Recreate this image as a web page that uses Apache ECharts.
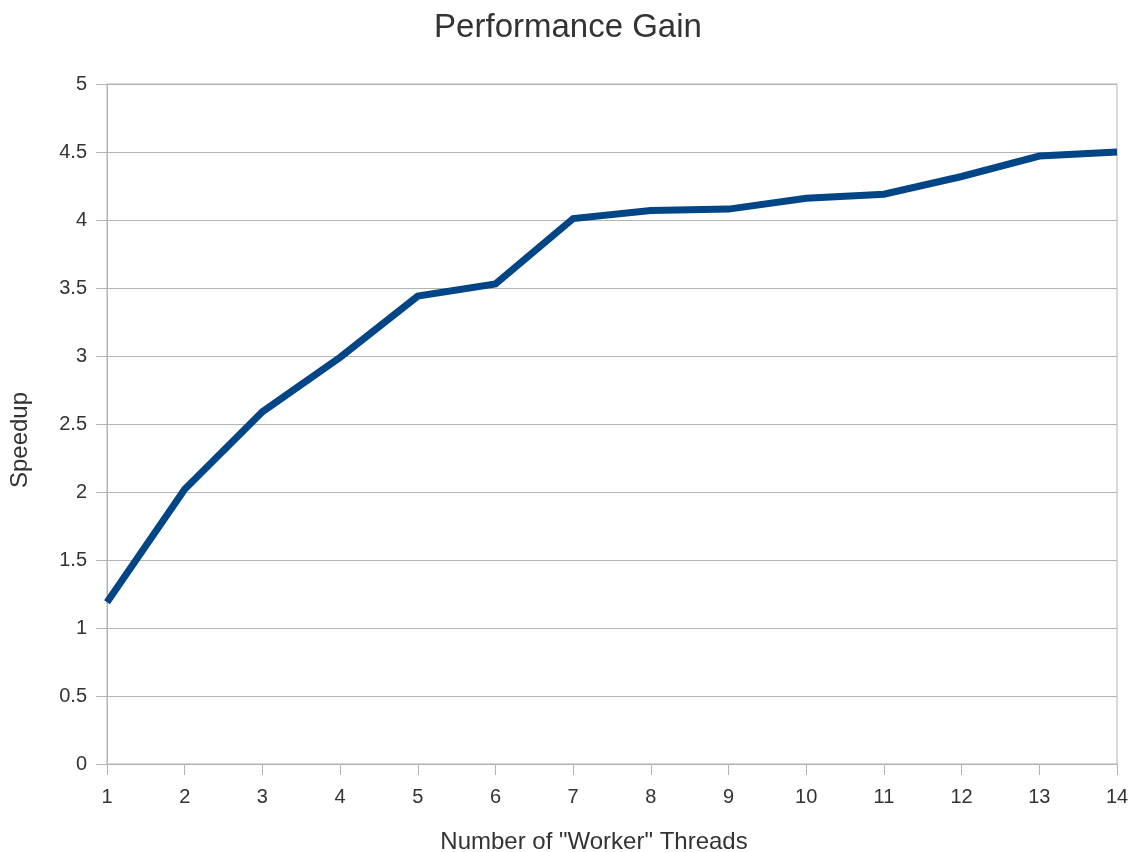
<!DOCTYPE html>
<html>
<head>
<meta charset="utf-8">
<script src="https://cdn.jsdelivr.net/npm/echarts@6/dist/echarts.min.js"></script>
<style>
  html, body { margin: 0; padding: 0; background: #fff; }
  #main { width: 1136px; height: 852px; }
</style>
</head>
<body>
<div id="main"></div>
<script>
// thread counts and measured speedup
const threads = [1, 2, 3, 4, 5, 6, 7, 8, 9, 10, 11, 12, 13, 14]
const speedup = [1.19, 2.02, 2.59, 2.99, 3.44, 3.53, 4.01, 4.07, 4.08, 4.16, 4.19, 4.32, 4.47, 4.50]

const font = '"Liberation Sans", Arial, sans-serif'
const grey = '#b3b3b3'
const chart = echarts.init(document.getElementById('main'))

chart.setOption({
  animation: false,
  title: {
    text: 'Performance Gain',
    left: 'center',
    top: 6,
    textStyle: { fontFamily: font, fontSize: 33, fontWeight: 'normal', color: '#333333' }
  },
  grid: {
    left: 107, right: 19, top: 84, bottom: 88,
    containLabel: false,
    outerBoundsMode: 'none',
    show: true, borderColor: grey, borderWidth: 1
  },
  xAxis: {
    type: 'value',
    min: 1,
    max: 14,
    interval: 1,
    name: 'Number of "Worker" Threads',
    nameLocation: 'middle',
    nameGap: 66,
    nameTextStyle: { fontFamily: font, fontSize: 24, color: '#333333', padding: [0, 36, 0, 0] },
    axisLine: { show: true, lineStyle: { color: grey, width: 1 } },
    axisTick: { show: true, length: 11, lineStyle: { color: grey } },
    axisLabel: { fontFamily: font, fontSize: 20, color: '#333333', margin: 23 },
    splitLine: { show: false }
  },
  yAxis: {
    type: 'value',
    min: 0,
    max: 5,
    interval: 0.5,
    name: 'Speedup',
    nameLocation: 'middle',
    nameGap: 75,
    nameRotate: 90,
    nameTextStyle: { fontFamily: font, fontSize: 24, color: '#333333', padding: [0, 32, 0, 0] },
    axisLine: { show: true, lineStyle: { color: grey, width: 1 } },
    axisTick: { show: true, length: 11, lineStyle: { color: grey } },
    axisLabel: { fontFamily: font, fontSize: 20, color: '#333333', margin: 20 },
    splitLine: { show: true, lineStyle: { color: grey, width: 1 } }
  },
  series: [{
    type: 'line',
    data: threads.map((t, i) => [t, speedup[i]]),
    symbol: 'none',
    lineStyle: { color: '#004586', width: 7, join: 'miter' }
  }]
})
</script>
</body>
</html>
